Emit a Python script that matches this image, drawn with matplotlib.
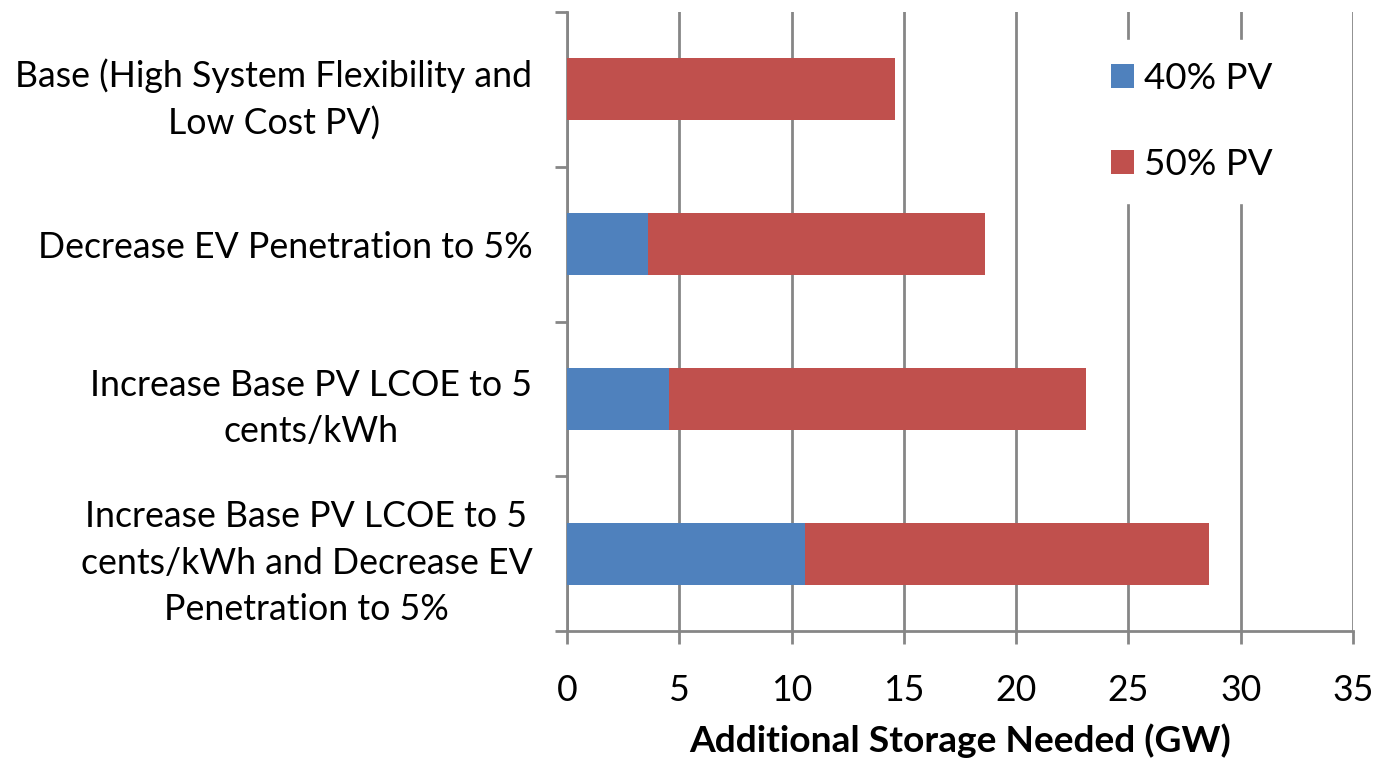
import matplotlib.pyplot as plt
import numpy as np

plt.rcParams['font.family'] = ['Lato', 'DejaVu Sans']

# Данные
scenarios = ['Base (High System Flexibility and\nLow Cost PV)',
             'Decrease EV Penetration to 5%',
             'Increase Base PV LCOE to 5\ncents/kWh',
             'Increase Base PV LCOE to 5\ncents/kWh and Decrease EV\nPenetration to 5%']
pv40 = [0.0, 3.6, 4.55, 10.6]
pv50 = [14.6, 15.0, 18.55, 18.0]
xticks = [0, 5, 10, 15, 20, 25, 30, 35]

grey = '#868686'

fig = plt.figure(figsize=(13.75, 7.59), dpi=100)
ax = fig.add_axes([567 / 1375, 1 - 631 / 759, (1353 - 567) / 1375, (631 - 12) / 759])

y = np.arange(len(scenarios))
ax.barh(y, pv40, height=0.4, color='#4F81BD', label='40% PV', zorder=3)
ax.barh(y, pv50, height=0.4, left=pv40, color='#C0504D', label='50% PV', zorder=3)

ax.set_xlim(0, 35)
ax.set_ylim(len(scenarios) - 0.5, -0.5)
ax.set_xticks(xticks)
ax.set_yticks(y)
ax.set_yticklabels(scenarios, multialignment='center', linespacing=1.5)
ax.set_yticks(np.arange(-0.5, len(scenarios)), minor=True)

ax.tick_params(axis='y', which='major', length=0, pad=25, labelsize=25.7)
ax.tick_params(axis='y', which='minor', length=9, width=2, color=grey)
ax.tick_params(axis='x', length=9, width=2, color=grey, labelsize=25.7, pad=22)

ax.grid(True, axis='x', color=grey, linewidth=2, zorder=0)
for s in ['top', 'right']:
    ax.spines[s].set_visible(False)
for s in ['left', 'bottom']:
    ax.spines[s].set_color(grey)
    ax.spines[s].set_linewidth(2)

ax.set_xlabel('Additional Storage Needed (GW)', fontsize=26.7, fontweight='bold', labelpad=12)

leg = ax.legend(loc='upper left', bbox_to_anchor=(0.64, 0.985), fontsize=26.5, frameon=True,
                framealpha=1, edgecolor='white', handlelength=0.65, handleheight=0.65,
                labelspacing=1.45, handletextpad=0.25, borderpad=0.6, fancybox=False)
leg.set_zorder(5)

plt.savefig('out.png', dpi=100)
